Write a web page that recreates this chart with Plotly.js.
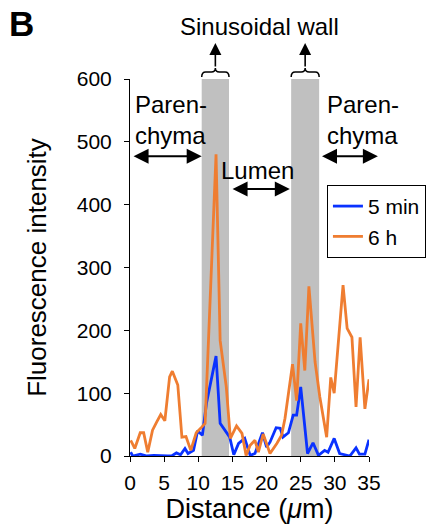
<!DOCTYPE html>
<html>
<head>
<meta charset="utf-8">
<script src="https://cdn.plot.ly/plotly-3.0.1.min.js"></script>
<style>html,body{margin:0;padding:0;background:#fff;}#chart{width:437px;height:526px;}</style>
</head>
<body>
<div id="chart"></div>
<script>
// ---- data ----
const distance5min = [0.1,0.4,1.5,2.5,3.5,4.5,5.5,6.1,6.8,7.4,8.05,8.5,9.3,9.9,10.6,11.2,12.6,13.2,13.9,14.6,15.2,15.9,16.8,17.6,18.3,19.4,20.0,20.5,21.4,22.0,22.4,23.2,23.9,24.4,25.0,26.0,26.8,27.6,28.5,29.0,29.9,30.7,32.2,33.1,33.6,34.4,35.0];
const intensity5min = [6,0,3,0,1,0,0,0,5,2,12,4,9,40,33,84,159,52,41,30,2,20,28,1,4,37,14,22,45,44,30,37,65,65,110,4,21,1,9,6,28,4,0,13,3,3,26];
const distance6h = [0.1,0.7,1.5,2.0,2.6,3.3,3.9,4.5,5.1,5.8,6.2,7.0,7.6,8.2,8.9,9.7,10.5,11.0,12.6,13.2,14.1,14.7,15.6,16.4,17.0,17.6,18.3,18.8,19.5,20.5,21.5,22.2,22.7,23.8,24.4,25.0,25.6,26.2,27.1,27.8,28.8,29.4,29.9,31.2,31.8,32.5,33.1,33.7,34.4,35.0];
const intensity6h = [25,12,37,37,6,41,54,66,56,126,135,113,30,31,9,37,46,52,480,184,110,28,48,36,1,17,25,6,35,4,20,33,60,146,88,211,136,270,150,94,30,125,100,272,203,189,78,189,75,122];
const seriesNames = ['5 min', '6 h'];
const xTicks = [0,5,10,15,20,25,30,35];
const yTicks = [0,100,200,300,400,500,600];
const wallStart = [10.5, 23.6];   // sinusoidal wall bands (µm)
const wallEnd = [14.5, 27.7];

const X_MAX = 35, Y_MAX = 600;
const PLOT_H = 376.7;               // plot height in px (for paper offsets)
const px2paperY = dy => 1 + dy / PLOT_H;  // dy px above the plot top
const FONT = 'Liberation Sans, Arial, Helvetica, sans-serif';

const traces = [
  {x: distance5min, y: intensity5min, name: seriesNames[0], type: 'scatter', mode: 'lines',
   line: {color: '#0a32ff', width: 2.8}},
  {x: distance6h, y: intensity6h, name: seriesNames[1], type: 'scatter', mode: 'lines',
   line: {color: '#ef7d31', width: 2.8}}
];

const shapes = [];
const annotations = [];
for (let i = 0; i < wallStart.length; i++) {
  // grey band
  shapes.push({type: 'rect', xref: 'x', yref: 'paper', x0: wallStart[i], x1: wallEnd[i], y0: 0, y1: 1,
    fillcolor: '#c0c0c0', line: {width: 0}, layer: 'below'});
  // curly brace above the band
  const a = wallStart[i] / X_MAX, b = wallEnd[i] / X_MAX, c = (a + b) / 2;
  const q = 4 / 239;
  const yb = px2paperY(2), ym = px2paperY(7), yt = px2paperY(11);
  shapes.push({type: 'path', xref: 'paper', yref: 'paper', line: {color: '#000', width: 1.5},
    path: `M${a},${yb} Q${a},${ym} ${a+q},${ym} L${c-q},${ym} Q${c},${ym} ${c},${yt} Q${c},${ym} ${c+q},${ym} L${b-q},${ym} Q${b},${ym} ${b},${yb}`});
  // arrow pointing up to the label
  annotations.push({xref: 'x', yref: 'paper', x: (wallStart[i] + wallEnd[i]) / 2, y: px2paperY(36),
    ax: 0, ay: 25, showarrow: true, arrowhead: 2, arrowsize: 1.5, arrowwidth: 1.6, arrowcolor: '#000', text: ''});
}

const dblArrow = (x0, x1, y) => ({xref: 'x', yref: 'y', axref: 'x', ayref: 'y', x: x1, y: y, ax: x0, ay: y,
  showarrow: true, arrowside: 'end+start', arrowhead: 2, arrowsize: 1.5, arrowwidth: 2, arrowcolor: '#000', text: ''});
annotations.push(dblArrow(0.3, 10.5, 477));
annotations.push(dblArrow(14.8, 23.4, 425));
annotations.push(dblArrow(27.9, 36.3, 477));

const lblFont = {family: FONT, size: 24, color: '#000'};
annotations.push({xref: 'x', yref: 'y', x: 0.4, y: 535, xanchor: 'left', yanchor: 'middle', align: 'left',
  text: 'Paren-<br>chyma', showarrow: false, font: lblFont});
annotations.push({xref: 'x', yref: 'y', x: 28.5, y: 535, xanchor: 'left', yanchor: 'middle', align: 'left',
  text: 'Paren-<br>chyma', showarrow: false, font: lblFont});
annotations.push({xref: 'x', yref: 'y', x: 18.6, y: 455, xanchor: 'center', yanchor: 'middle',
  text: 'Lumen', showarrow: false, font: lblFont});
annotations.push({xref: 'paper', yref: 'paper', x: 0.54, y: px2paperY(52), xanchor: 'center', yanchor: 'middle',
  text: 'Sinusoidal wall', showarrow: false, font: lblFont});
annotations.push({xref: 'paper', yref: 'paper', x: (7 - 130) / 239, y: px2paperY(55), xanchor: 'left', yanchor: 'middle',
  text: '<b>B</b>', showarrow: false, font: {family: FONT, size: 35, color: '#000'}});

const layout = {
  width: 437, height: 526,
  margin: {l: 130, r: 68, t: 79, b: 70, autoexpand: false},
  paper_bgcolor: '#fff', plot_bgcolor: '#fff',
  font: {family: FONT, color: '#000'},
  showlegend: true,
  legend: {x: 0.824, y: 0.719, xanchor: 'left', yanchor: 'top', bgcolor: '#fff',
    bordercolor: '#000', borderwidth: 1, font: {family: FONT, size: 21, color: '#000'},
    itemwidth: 30, tracegroupgap: 0},
  xaxis: {range: [0, X_MAX], tickvals: xTicks, ticktext: xTicks.map(String), showgrid: false, zeroline: false,
    showline: true, linecolor: '#000', linewidth: 1, ticks: 'outside', ticklen: 5, tickcolor: '#000',
    tickfont: {family: FONT, size: 21, color: '#000'}, ticklabelstandoff: 3,
    title: {text: 'Distance (<i>μ</i>m)', font: {family: FONT, size: 27, color: '#000'}, standoff: 4}},
  yaxis: {range: [0, Y_MAX], tickvals: yTicks, ticktext: yTicks.map(String), showgrid: false, zeroline: false,
    showline: true, linecolor: '#000', linewidth: 1, ticks: 'outside', ticklen: 5, tickcolor: '#000',
    tickfont: {family: FONT, size: 21, color: '#000'}, ticklabelstandoff: 8,
    title: {text: 'Fluorescence intensity', font: {family: FONT, size: 26, color: '#000'}, standoff: 22}},
  shapes: shapes,
  annotations: annotations
};

Plotly.newPlot('chart', traces, layout, {staticPlot: true, displayModeBar: false});
</script>
</body>
</html>
